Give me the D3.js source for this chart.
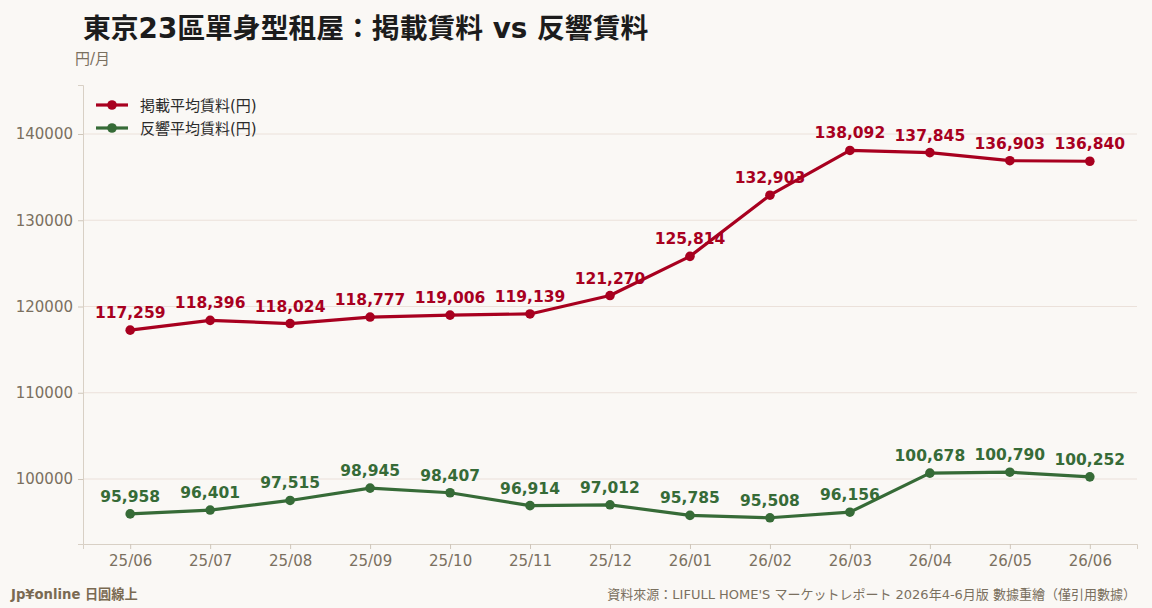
<!DOCTYPE html>
<html>
<head>
<meta charset="utf-8">
<script src="https://cdn.jsdelivr.net/npm/d3@7"></script>
<style>
  body { margin: 0; background: #faf8f5; overflow: hidden; }
  svg { display: block; }
</style>
</head>
<body>
<div id="chart"></div>
<script>
// data
const months = ["25/06","25/07","25/08","25/09","25/10","25/11","25/12","26/01","26/02","26/03","26/04","26/05","26/06"];
const listedRent = [117259,118396,118024,118777,119006,119139,121270,125814,132903,138092,137845,136903,136840];
const responseRent = [95958,96401,97515,98945,98407,96914,97012,95785,95508,96156,100678,100790,100252];
const yTicks = [100000,110000,120000,130000,140000];
const seriesNames = ["掲載平均賃料(円)","反響平均賃料(円)"];
const seriesColors = ["#a8001f","#366b37"];

const mixFont = "'DejaVu Sans', 'Noto Sans CJK JP', sans-serif";

const width = 1152, height = 608;
const margin = {top: 85, right: 15, bottom: 64, left: 83};
const innerWidth = width - margin.left - margin.right;
const innerHeight = height - margin.top - margin.bottom;

const svg = d3.select("#chart")
    .append("svg")
    .attr("width", width)
    .attr("height", height)
    .attr("viewBox", `0 0 ${width} ${height}`);

svg.append("rect").attr("width", width).attr("height", height).attr("fill", "#faf8f5");

const innerChart = svg.append("g")
    .attr("transform", `translate(${margin.left}, ${margin.top})`);

const xScale = d3.scalePoint()
    .domain(months)
    .range([0, innerWidth])
    .padding(0.59);

const yScale = d3.scaleLinear()
    .domain([92467, 145680])
    .range([innerHeight, 0]);

// gridlines
innerChart.append("g")
    .selectAll("line")
    .data(yTicks)
    .join("line")
    .attr("x1", 0)
    .attr("x2", innerWidth)
    .attr("y1", d => yScale(d))
    .attr("y2", d => yScale(d))
    .attr("stroke", "#ebe1da")
    .attr("stroke-width", 1);

// axes
const styleAxis = (g) => {
    g.attr("font-family", "DejaVu Sans, sans-serif").attr("font-size", 15);
    g.select(".domain").attr("stroke", "#d8d0c5");
    g.selectAll(".tick line").attr("stroke", "#cfc6ba");
    g.selectAll(".tick text").attr("fill", "#7a705f");
};

const bottomAxis = d3.axisBottom(xScale).tickSize(5).tickPadding(6);
innerChart.append("g")
    .attr("transform", `translate(0, ${innerHeight})`)
    .call(bottomAxis)
    .call(styleAxis);

const leftAxis = d3.axisLeft(yScale).tickValues(yTicks).tickFormat(d3.format("d")).tickSize(5).tickPadding(5);
innerChart.append("g")
    .call(leftAxis)
    .call(styleAxis);

// lines, points, labels
const seriesData = [listedRent, responseRent];
const line = d3.line()
    .x((d, i) => xScale(months[i]))
    .y(d => yScale(d));

seriesData.forEach((values, s) => {
    const g = innerChart.append("g");
    g.append("path")
        .datum(values)
        .attr("d", line)
        .attr("fill", "none")
        .attr("stroke", seriesColors[s])
        .attr("stroke-width", 3.2)
        .attr("stroke-linejoin", "round");
    g.selectAll("circle")
        .data(values)
        .join("circle")
        .attr("cx", (d, i) => xScale(months[i]))
        .attr("cy", d => yScale(d))
        .attr("r", 4.8)
        .attr("fill", seriesColors[s]);
    g.selectAll("text")
        .data(values)
        .join("text")
        .attr("x", (d, i) => xScale(months[i]))
        .attr("y", d => yScale(d) - 12)
        .attr("text-anchor", "middle")
        .attr("font-family", "DejaVu Sans, sans-serif")
        .attr("font-weight", "bold")
        .attr("font-size", 15.5)
        .attr("fill", seriesColors[s])
        .text(d => d3.format(",")(d));
});

// legend
const legend = innerChart.append("g").attr("transform", "translate(13, 20)");
seriesNames.forEach((name, i) => {
    const row = legend.append("g").attr("transform", `translate(0, ${i * 23})`);
    row.append("line").attr("x1", 0).attr("x2", 32).attr("stroke", seriesColors[i]).attr("stroke-width", 3.2);
    row.append("circle").attr("cx", 16).attr("r", 4.8).attr("fill", seriesColors[i]);
    row.append("text")
        .attr("x", 44)
        .attr("y", 5.5)
        .attr("font-family", mixFont)
        .attr("font-size", 15)
        .attr("fill", "#2b2b2b")
        .text(name);
});

// title and labels
svg.append("text")
    .text("東京23區單身型租屋：掲載賃料 vs 反響賃料")
    .attr("x", 83)
    .attr("y", 38)
    .attr("font-family", mixFont)
    .attr("font-weight", "bold")
    .attr("font-size", 27.8)
    .attr("fill", "#1c1c1c");

svg.append("text")
    .text("円/月")
    .attr("x", 75)
    .attr("y", 64)
    .attr("font-family", mixFont)
    .attr("font-size", 15)
    .attr("fill", "#7a705f");

svg.append("text")
    .text("Jp¥online 日圓線上")
    .attr("x", 11)
    .attr("y", 599)
    .attr("font-family", mixFont)
    .attr("font-weight", "bold")
    .attr("font-size", 13.2)
    .attr("fill", "#7a6a52");

svg.append("text")
    .text("資料來源：LIFULL HOME'S マーケットレポート 2026年4-6月版 數據重繪（僅引用數據）")
    .attr("x", 1136)
    .attr("y", 599)
    .attr("text-anchor", "end")
    .attr("font-family", mixFont)
    .attr("font-size", 13)
    .attr("fill", "#7a705f");
</script>
</body>
</html>
